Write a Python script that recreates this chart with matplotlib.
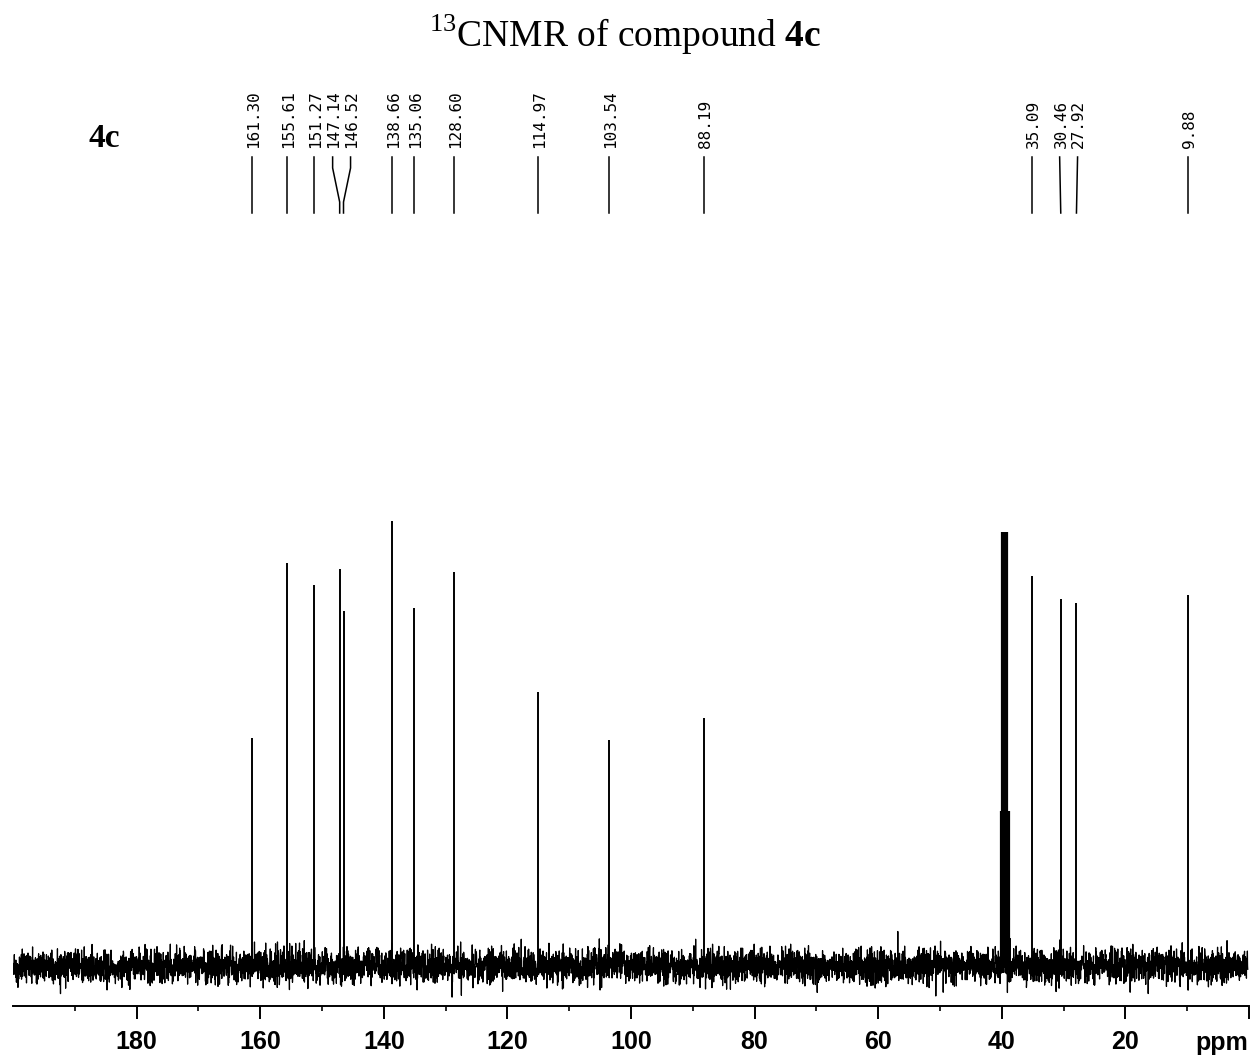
import numpy as np
import matplotlib
matplotlib.use("Agg")
import matplotlib.pyplot as plt
from matplotlib import transforms as mtransforms

plt.rcParams["mathtext.fontset"] = "custom"
plt.rcParams["mathtext.rm"] = "Liberation Serif"
plt.rcParams["mathtext.bf"] = "Liberation Serif:bold"

# peak list (ppm) and heights (baseline = 0)
peak_ppm = [161.30, 155.61, 151.27, 147.14, 146.52, 138.66, 135.06, 128.60,
            114.97, 103.54, 88.19, 35.09, 30.46, 27.92, 9.88]
peak_height = [228, 403, 381, 397, 355, 445, 358, 394,
               274, 226, 248, 390, 367, 363, 371]

# DMSO-d6 septet, relative intensities, drawn clipped
dmso_ppm = [40.13, 39.92, 39.71, 39.50, 39.29, 39.08, 38.87]
dmso_rel = [1, 3, 6, 7, 6, 3, 1]
dmso_unit = 155
dmso_clip = 434

major_ticks = [180, 160, 140, 120, 100, 80, 60, 40, 20, 0]
major_labels = ["180", "160", "140", "120", "100", "80", "60", "40", "20", ""]
minor_ticks = [190, 170, 150, 130, 110, 90, 70, 50, 30, 10]

W, H = 1257, 1057
fig = plt.figure(figsize=(W / 100, H / 100), dpi=100)
ax = fig.add_axes([13 / W, (H - 1006) / H, (1249 - 13) / W, 1006 / H])
ax.set_xlim(200, 0)
ax.set_ylim(-40, 966)

# baseline noise texture (not data), fixed seed
rng = np.random.default_rng(7)
noise_x = np.linspace(200, 0.2, 6500)
noise_y = rng.normal(0, 8.5, noise_x.size)
ax.plot(noise_x, noise_y, color="black", lw=0.9, zorder=2)

ax.vlines(peak_ppm, 0, peak_height, color="black", lw=1.4, zorder=3)
dmso_h = np.minimum(np.array(dmso_rel) * dmso_unit, dmso_clip)
ax.vlines(dmso_ppm, 0, dmso_h, color="black", lw=1.6, zorder=3)

# spread crowded labels apart
min_gap = 2.9
groups = [[p] for p in sorted(peak_ppm, reverse=True)]
changed = True
while changed:
    changed = False
    pos = []
    for g in groups:
        c = np.mean(g)
        n = len(g)
        pos.append([c + min_gap * ((n - 1) / 2 - i) for i in range(n)])
    for i in range(len(groups) - 1):
        if pos[i][-1] - pos[i + 1][0] < min_gap:
            groups[i] = groups[i] + groups[i + 1]
            del groups[i + 1]
            changed = True
            break
label_pos = [p for grp in pos for p in grp]
peaks_sorted = sorted(peak_ppm, reverse=True)

y_txt = 966 - 148
y_top, y_b1, y_b2, y_bot = 966 - 157, 966 - 168, 966 - 202, 966 - 213
txt_trans = mtransforms.offset_copy(ax.transData, fig=fig, x=5.8, y=0, units="dots")
for p, lp in zip(peaks_sorted, label_pos):
    if abs(p - lp) < 0.5:
        xs, ys = [lp, p], [y_top, y_bot]
    else:
        xs, ys = [lp, lp, p, p], [y_top, y_b1, y_b2, y_bot]
    ax.plot(xs, ys, color="black", lw=1.1)
    ax.text(lp, y_txt, f"{p:.2f}", rotation=90, rotation_mode="anchor",
            ha="left", va="baseline", family="DejaVu Sans Mono",
            fontsize=11.5, transform=txt_trans)

for s in ["left", "right", "top"]:
    ax.spines[s].set_visible(False)
ax.spines["bottom"].set_linewidth(1.4)
ax.set_yticks([])
ax.set_xticks(major_ticks)
ax.set_xticklabels(major_labels)
ax.set_xticks(minor_ticks, minor=True)
ax.tick_params(axis="x", which="major", length=9.4, width=1.4, pad=8)
ax.tick_params(axis="x", which="minor", length=3.6, width=1.2)
for t in ax.get_xticklabels():
    t.set_family("Liberation Sans")
    t.set_fontweight("bold")
    t.set_fontsize(18)

fig.text(1222 / W, 1 - 1050 / H, "ppm", family="Liberation Sans",
         fontweight="bold", fontsize=18, ha="center", va="baseline")
fig.text(625 / W, 1 - 47 / H, r"$^{13}$CNMR of compound $\mathbf{4c}$",
         family="Liberation Serif", fontsize=27, ha="center", va="baseline")
fig.text(104 / W, 1 - 147 / H, "4c", family="Liberation Serif",
         fontweight="bold", fontsize=24, ha="center", va="baseline")

fig.savefig("out.png", dpi=100)
